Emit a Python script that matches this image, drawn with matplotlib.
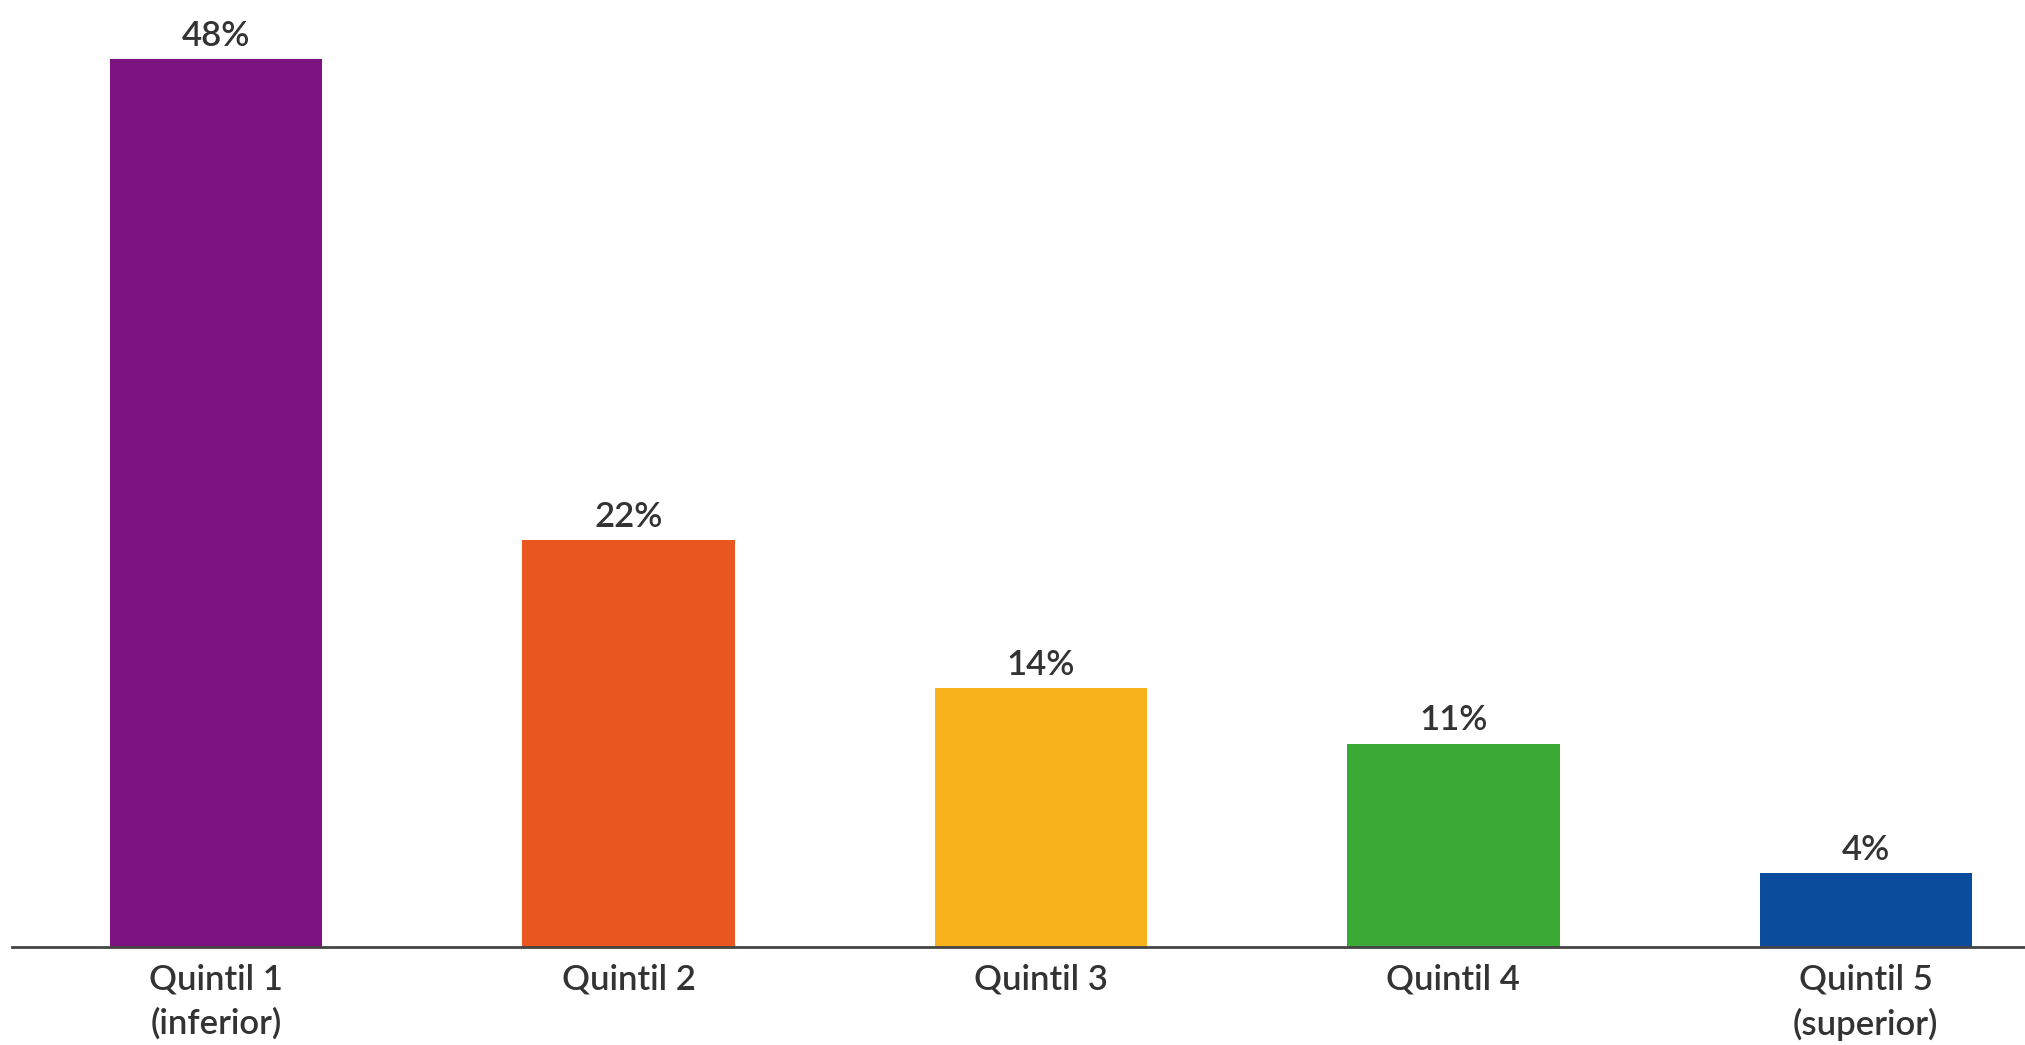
import numpy as np
import matplotlib
matplotlib.use('Agg')
import matplotlib.pyplot as plt

plt.rcParams['font.family'] = ['Lato', 'DejaVu Sans']

# 数据
categories = ['Quintil 1\n(inferior)', 'Quintil 2', 'Quintil 3', 'Quintil 4', 'Quintil 5\n(superior)']
values = [48, 22, 14, 11, 4]
value_labels = ['48%', '22%', '14%', '11%', '4%']
colors = ['#7D1380', '#E9561F', '#F8B21C', '#3AA936', '#0B4D9C']

fig = plt.figure(figsize=(20.25, 10.45), dpi=100)
ax = fig.add_axes([12 / 2025, (1045 - 947) / 1045, 2013 / 2025, 947 / 1045])

x = np.arange(len(categories))
bars = ax.bar(x, values, width=0.515, color=colors, zorder=2)

for rect, lab in zip(bars, value_labels):
    ax.text(rect.get_x() + rect.get_width() / 2, rect.get_height() + 0.4, lab,
            ha='center', va='bottom', fontsize=25, fontweight='semibold', color='#333333')

ax.set_xlim(-0.495, 4.386)
ax.set_ylim(0, 51.2)

ax.set_xticks(x)
ax.set_xticklabels(categories, fontsize=25, fontweight='semibold', color='#333333', linespacing=1.45)
ax.tick_params(axis='x', length=0, pad=12)
ax.set_yticks([])

for side in ['top', 'right', 'left']:
    ax.spines[side].set_visible(False)
ax.spines['bottom'].set_color('#444444')
ax.spines['bottom'].set_linewidth(2)

fig.savefig('out.png', dpi=100)
